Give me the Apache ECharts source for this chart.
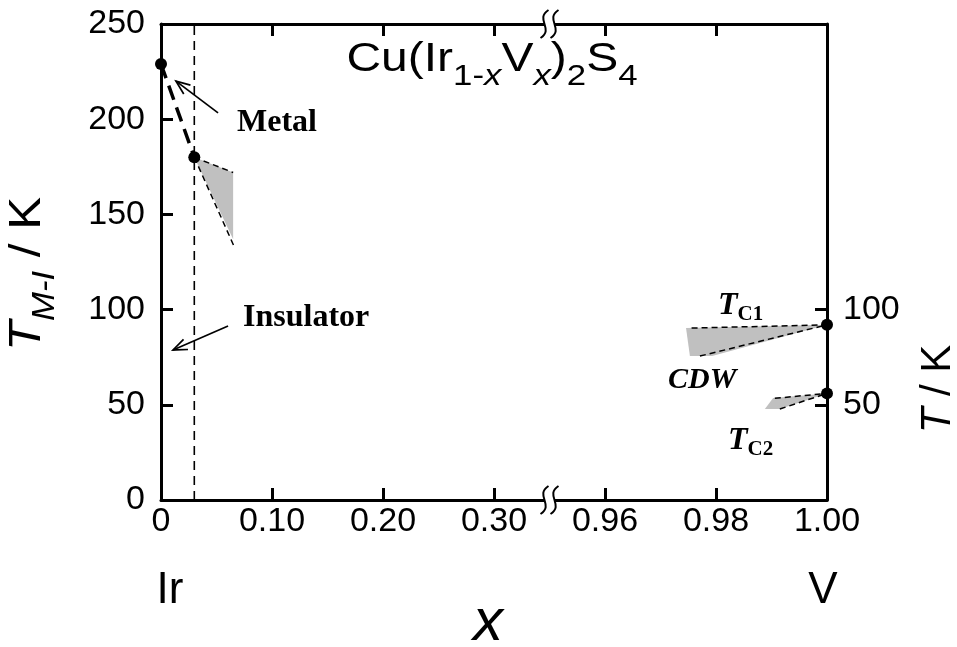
<!DOCTYPE html>
<html>
<head>
<meta charset="utf-8">
<script src="https://cdn.jsdelivr.net/npm/echarts@6/dist/echarts.min.js"></script>
<style>
  html, body { margin: 0; padding: 0; background: #fff; }
  #chart { width: 957px; height: 647px; }
</style>
</head>
<body>
<div id="chart"></div>
<script>
// ---- Cu(Ir1-xVx)2S4 phase diagram data ----
// Ir-rich side (x = 0 ... 0.35)
const leftXTicks = [0.10, 0.20, 0.30];
const leftXLabels = [0, 0.10, 0.20, 0.30];
const tempTicks = [50, 100, 150, 200];
const tempLabels = [0, 50, 100, 150, 200, 250];
const mitX = [0, 0.03];            // metal-insulator transition points
const mitT = [229, 180];
const boundaryX = 0.03;           // vertical phase boundary
const mitWedge = [[0.03, 180], [0.065, 172], [0.065, 137]];
const mitWedgeUpper = [[0.03, 180], [0.065, 172]];
const mitWedgeLower = [[0.03, 180], [0.066, 133]];
const metalArrow = [0.0514, 203.3, 0.0135, 220];
const insulatorArrow = [0.0604, 91.4, 0.0108, 78.8];

// V-rich side (x = 0.95 ... 1.00)
const rightXTicks = [0.96, 0.98];
const rightXLabels = [0.96, 0.98, 1.00];
const rightTempTicks = [50, 100];
const endX = [1.0, 1.0];           // Tc1 and Tc2 of CuV2S4
const endT = [92, 56];
const cdwWedge = [[0.9746, 90.3], [1.0, 92], [0.9793, 75.6], [0.9753, 75.6]];
const cdwUpper = [[0.9756, 90.3], [1.0, 92]];
const cdwLower = [[0.9771, 75.6], [1.0, 92]];
const tc2Wedge = [[0.9888, 47.8], [0.9903, 53.6], [1.0, 56], [0.9915, 47.8]];
const tc2Upper = [[0.9906, 53.4], [1.0, 56]];
const tc2Lower = [[0.9915, 47.8], [1.0, 56]];

const SANS = 'Liberation Sans, Arial, sans-serif';
const SERIF = 'Liberation Serif, Times New Roman, serif';
const GRAY = '#c0c0c0';

const chart = echarts.init(document.getElementById('chart'), null, { renderer: 'canvas' });

function fmtX(v) {
  return Math.abs(v) < 1e-9 ? '0' : v.toFixed(2);
}

function xAxisPair(gridIndex, min, max, ticks, labels) {
  const lineStyle = { color: '#000', width: 3 };
  return [
    {
      type: 'value', gridIndex, position: 'bottom', min, max,
      axisLine: { show: true, lineStyle },
      axisTick: { show: true, inside: true, length: 12, lineStyle, customValues: ticks },
      axisLabel: {
        show: true, customValues: labels, formatter: fmtX, margin: 5,
        color: '#000', fontFamily: SANS, fontSize: 34,
        showMinLabel: true, showMaxLabel: true
      },
      splitLine: { show: false }
    },
    {
      type: 'value', gridIndex, position: 'top', min, max,
      axisLine: { show: true, lineStyle },
      axisTick: { show: true, inside: true, length: 12, lineStyle, customValues: ticks },
      axisLabel: { show: false },
      splitLine: { show: false }
    }
  ];
}

function polygonSeries(xAxisIndex, yAxisIndex, pts) {
  return {
    type: 'custom', xAxisIndex, yAxisIndex, data: pts, silent: true, z: 2,
    renderItem: function (params, api) {
      if (params.dataIndex !== 0) return null;
      return {
        type: 'polygon',
        shape: { points: pts.map(p => api.coord(p)) },
        style: { fill: GRAY, stroke: null }
      };
    }
  };
}

function dashedSeries(xAxisIndex, yAxisIndex, pts, width, dash) {
  return {
    type: 'line', xAxisIndex, yAxisIndex, data: pts, symbol: 'none', silent: true,
    clip: false, z: 3,
    lineStyle: { color: '#000', width, type: dash }
  };
}

function arrowSeries(seg) {
  return {
    type: 'custom', xAxisIndex: 0, yAxisIndex: 0, data: [seg], silent: true, z: 4,
    renderItem: function (params, api) {
      const a = api.coord([api.value(0), api.value(1)]);
      const b = api.coord([api.value(2), api.value(3)]);
      const ang = Math.atan2(b[1] - a[1], b[0] - a[0]);
      const L = 15, spread = 0.38;
      const h1 = [b[0] - L * Math.cos(ang - spread), b[1] - L * Math.sin(ang - spread)];
      const h2 = [b[0] - L * Math.cos(ang + spread), b[1] - L * Math.sin(ang + spread)];
      return {
        type: 'group',
        children: [
          { type: 'line', shape: { x1: a[0], y1: a[1], x2: b[0], y2: b[1] },
            style: { stroke: '#000', lineWidth: 1.7 } },
          { type: 'polyline', shape: { points: [h1, b, h2] },
            style: { stroke: '#000', lineWidth: 1.7, fill: null } }
        ]
      };
    }
  };
}

// axis break marks on the top and bottom frame lines
function breakMark(cx, cy) {
  const s = (x0) => ({
    type: 'bezierCurve', z: 101,
    shape: { x1: x0 + 4, y1: cy - 14, cpx1: x0 - 10, cpy1: cy - 5, cpx2: x0 + 10, cpy2: cy + 5, x2: x0 - 4, y2: cy + 14 },
    style: { stroke: '#000', lineWidth: 2, fill: null }
  });
  return [
    { type: 'rect', shape: { x: cx - 5, y: cy - 4, width: 10, height: 8 },
      style: { fill: '#fff' }, z: 100 },
    s(cx - 5),
    s(cx + 5)
  ];
}

const GRID_TOP = 24, GRID_H = 476;
const LEFT0 = 161, W0 = 388.5, W1 = 277.5;
const BREAK_X = LEFT0 + W0;

const dotStyle = { color: '#000', opacity: 1 };

const option = {
  animation: false,
  backgroundColor: '#fff',
  grid: [
    { left: LEFT0, top: GRID_TOP, width: W0, height: GRID_H, containLabel: false },
    { left: BREAK_X, top: GRID_TOP, width: W1, height: GRID_H, containLabel: false }
  ],
  xAxis: [].concat(
    xAxisPair(0, 0, 0.35, leftXTicks, leftXLabels),
    xAxisPair(1, 0.95, 1.0, rightXTicks, rightXLabels)
  ),
  yAxis: [
    {
      type: 'value', gridIndex: 0, position: 'left', min: 0, max: 250, interval: 50,
      axisLine: { show: true, lineStyle: { color: '#000', width: 3 } },
      axisTick: { show: true, inside: true, length: 12,
        lineStyle: { color: '#000', width: 3 }, customValues: tempTicks },
      axisLabel: { show: true, customValues: tempLabels, margin: 16,
        color: '#000', fontFamily: SANS, fontSize: 34 },
      splitLine: { show: false }
    },
    {
      type: 'value', gridIndex: 1, position: 'right', min: 0, max: 250, interval: 50,
      axisLine: { show: true, lineStyle: { color: '#000', width: 3 } },
      axisTick: { show: true, inside: true, length: 12,
        lineStyle: { color: '#000', width: 3 }, customValues: rightTempTicks },
      axisLabel: { show: true, customValues: rightTempTicks, margin: 16,
        color: '#000', fontFamily: SANS, fontSize: 34 },
      splitLine: { show: false }
    }
  ],
  series: [
    polygonSeries(0, 0, mitWedge),
    dashedSeries(0, 0, mitWedgeUpper, 1.5, [6, 4]),
    dashedSeries(0, 0, mitWedgeLower, 1.5, [6, 4]),
    dashedSeries(0, 0, [[boundaryX, 0], [boundaryX, 250]], 1.6, [9, 6]),
    dashedSeries(0, 0, mitX.map((x, i) => [x, mitT[i]]), 3.5, [15, 8]),
    {
      type: 'scatter', xAxisIndex: 0, yAxisIndex: 0, clip: false, z: 5,
      symbolSize: 12, itemStyle: dotStyle,
      data: mitX.map((x, i) => [x, mitT[i]])
    },
    arrowSeries(metalArrow),
    arrowSeries(insulatorArrow),

    polygonSeries(2, 1, cdwWedge),
    polygonSeries(2, 1, tc2Wedge),
    dashedSeries(2, 1, cdwUpper, 1.5, [6, 4]),
    dashedSeries(2, 1, cdwLower, 1.5, [6, 4]),
    dashedSeries(2, 1, tc2Upper, 1.5, [6, 4]),
    dashedSeries(2, 1, tc2Lower, 1.5, [6, 4]),
    {
      type: 'scatter', xAxisIndex: 2, yAxisIndex: 1, clip: false, z: 5,
      symbolSize: 12, itemStyle: dotStyle,
      data: endX.map((x, i) => [x, endT[i]])
    }
  ],
  graphic: [].concat(
    breakMark(BREAK_X, GRID_TOP),
    breakMark(BREAK_X, GRID_TOP + GRID_H),
    [
      // compound formula
      {
        type: 'text', x: 492, y: 64, scaleX: 1.2, z: 50,
        style: {
          text: '{m|Cu(Ir}{s|1-}{si|x}{m|V}{si|x}{m|)}{s|2}{m|S}{s|4}',
          align: 'center', verticalAlign: 'middle', fill: '#000',
          rich: {
            m: { fontFamily: SANS, fontSize: 40, lineHeight: 48, verticalAlign: 'top', fill: '#000' },
            s: { fontFamily: SANS, fontSize: 29, lineHeight: 29, padding: [22, 0, 0, 0], verticalAlign: 'top', fill: '#000' },
            si: { fontFamily: SANS, fontSize: 29, fontStyle: 'italic', lineHeight: 29, padding: [22, 0, 0, 0], verticalAlign: 'top', fill: '#000' }
          }
        }
      },
      // left axis title
      {
        type: 'text', x: 32, y: 274, rotation: Math.PI / 2, scaleX: 1.12, z: 50,
        style: {
          text: '{t|T}{s|M-I}{m| / K}',
          align: 'center', verticalAlign: 'middle', fill: '#000',
          rich: {
            t: { fontFamily: SANS, fontSize: 44, fontStyle: 'italic', lineHeight: 52, verticalAlign: 'top', fill: '#000' },
            m: { fontFamily: SANS, fontSize: 44, lineHeight: 52, verticalAlign: 'top', fill: '#000' },
            s: { fontFamily: SANS, fontSize: 31, fontStyle: 'italic', lineHeight: 31, padding: [24, 0, 0, 0], verticalAlign: 'top', fill: '#000' }
          }
        }
      },
      // right axis title
      {
        type: 'text', x: 938, y: 389, rotation: Math.PI / 2, z: 50,
        style: {
          text: '{t|T}{m| / K}',
          align: 'center', verticalAlign: 'middle', fill: '#000',
          rich: {
            t: { fontFamily: SANS, fontSize: 42, fontStyle: 'italic', fill: '#000' },
            m: { fontFamily: SANS, fontSize: 42, fill: '#000' }
          }
        }
      },
      // composition axis
      { type: 'text', x: 170, y: 591, z: 50,
        style: { text: 'Ir', font: '44px ' + SANS, align: 'center', verticalAlign: 'middle', fill: '#000' } },
      { type: 'text', x: 823, y: 591, z: 50,
        style: { text: 'V', font: '44px ' + SANS, align: 'center', verticalAlign: 'middle', fill: '#000' } },
      { type: 'text', x: 488, y: 623, z: 50,
        style: { text: 'x', font: 'italic 60px ' + SANS, align: 'center', verticalAlign: 'middle', fill: '#000' } },
      // phase labels
      { type: 'text', x: 237, y: 123, z: 50,
        style: { text: 'Metal', font: 'bold 32px ' + SERIF, align: 'left', verticalAlign: 'middle', fill: '#000' } },
      { type: 'text', x: 243, y: 318, z: 50,
        style: { text: 'Insulator', font: 'bold 32px ' + SERIF, align: 'left', verticalAlign: 'middle', fill: '#000' } },
      { type: 'text', x: 668, y: 380, z: 50,
        style: { text: 'CDW', font: 'italic bold 30px ' + SERIF, align: 'left', verticalAlign: 'middle', fill: '#000' } },
      {
        type: 'text', x: 718, y: 307, z: 50,
        style: {
          text: '{t|T}{s|C1}', align: 'left', verticalAlign: 'middle', fill: '#000',
          rich: {
            t: { fontFamily: SERIF, fontSize: 32, fontStyle: 'italic', fontWeight: 'bold', lineHeight: 34, verticalAlign: 'top', fill: '#000' },
            s: { fontFamily: SERIF, fontSize: 21, fontWeight: 'bold', lineHeight: 21, padding: [14, 0, 0, 0], verticalAlign: 'top', fill: '#000' }
          }
        }
      },
      {
        type: 'text', x: 728, y: 442, z: 50,
        style: {
          text: '{t|T}{s|C2}', align: 'left', verticalAlign: 'middle', fill: '#000',
          rich: {
            t: { fontFamily: SERIF, fontSize: 32, fontStyle: 'italic', fontWeight: 'bold', lineHeight: 34, verticalAlign: 'top', fill: '#000' },
            s: { fontFamily: SERIF, fontSize: 21, fontWeight: 'bold', lineHeight: 21, padding: [14, 0, 0, 0], verticalAlign: 'top', fill: '#000' }
          }
        }
      }
    ]
  )
};

chart.setOption(option);
</script>
</body>
</html>
